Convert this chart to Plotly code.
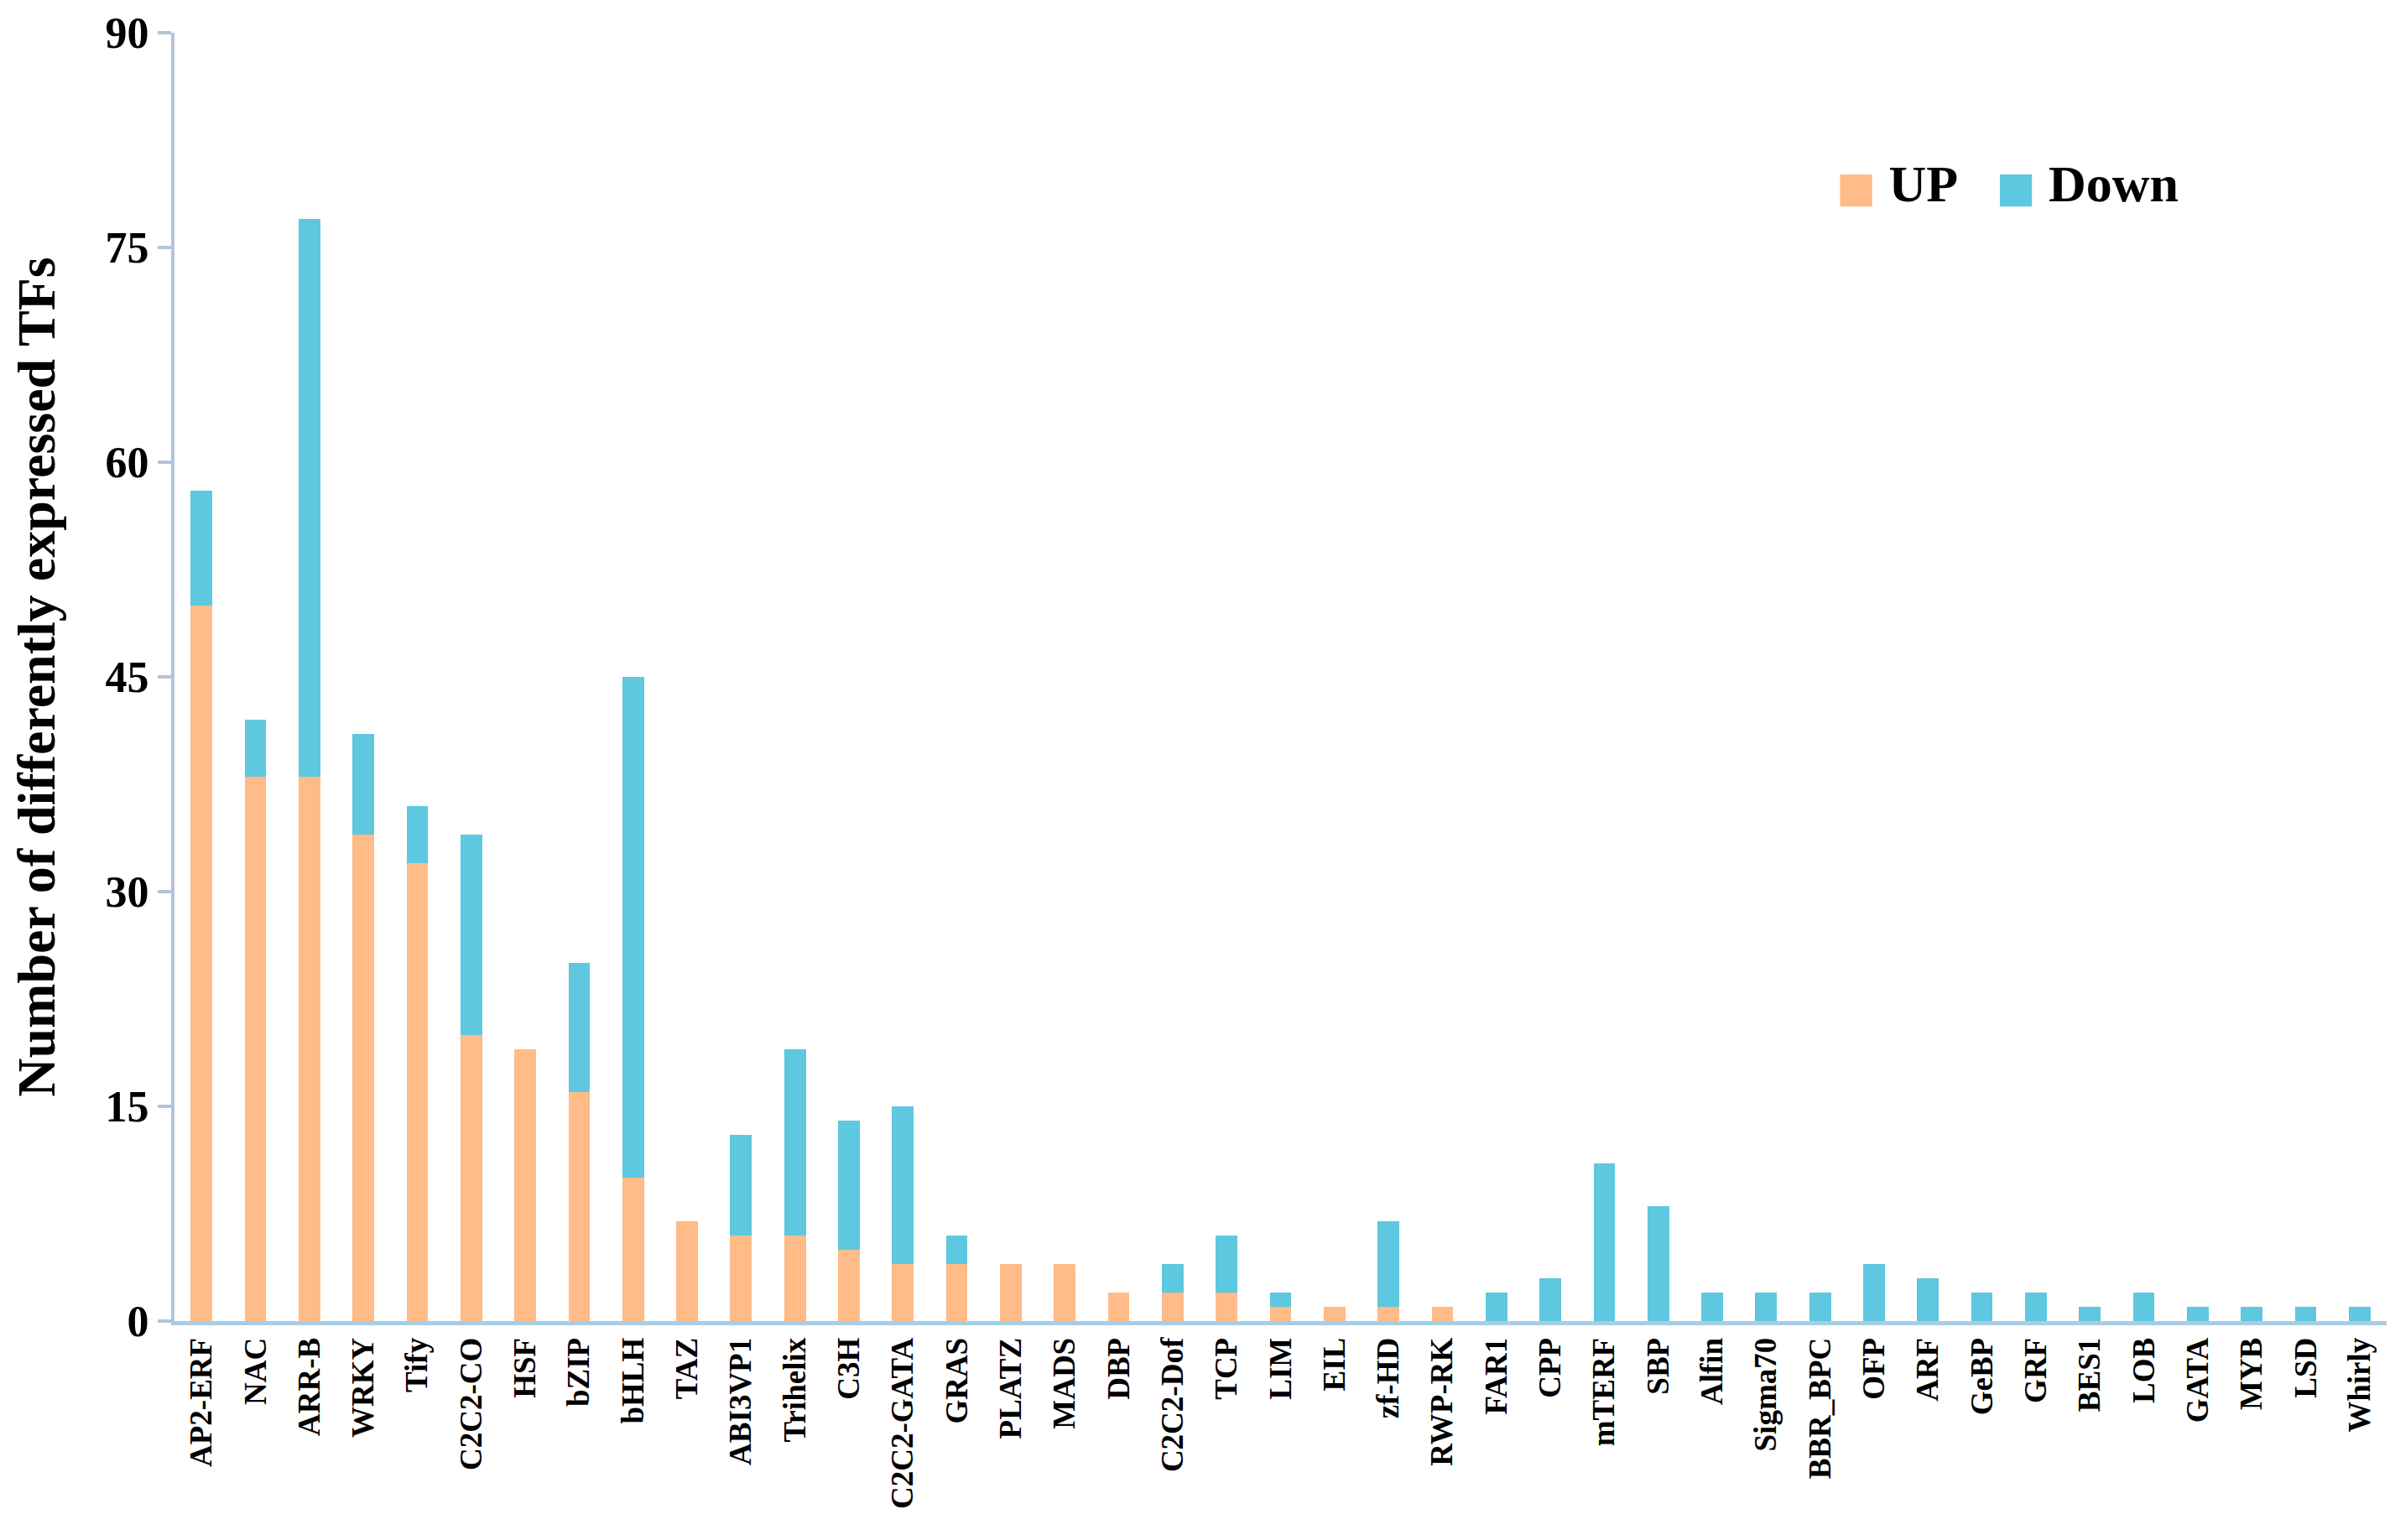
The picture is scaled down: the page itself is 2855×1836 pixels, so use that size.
import plotly.graph_objects as go

categories = ["AP2-ERF", "NAC", "ARR-B", "WRKY", "Tify", "C2C2-CO", "HSF", "bZIP", "bHLH", "TAZ",
              "ABI3VP1", "Trihelix", "C3H", "C2C2-GATA", "GRAS", "PLATZ", "MADS", "DBP", "C2C2-Dof", "TCP",
              "LIM", "EIL", "zf-HD", "RWP-RK", "FAR1", "CPP", "mTERF", "SBP", "Alfin", "Sigma70",
              "BBR_BPC", "OFP", "ARF", "GeBP", "GRF", "BES1", "LOB", "GATA", "MYB", "LSD", "Whirly"]
up_values = [50, 38, 38, 34, 32, 20, 19, 16, 10, 7,
             6, 6, 5, 4, 4, 4, 4, 2, 2, 2,
             1, 1, 1, 1, 0, 0, 0, 0, 0, 0,
             0, 0, 0, 0, 0, 0, 0, 0, 0, 0, 0]
down_values = [8, 4, 39, 7, 4, 14, 0, 9, 35, 0,
               7, 13, 9, 11, 2, 0, 0, 0, 2, 4,
               1, 0, 6, 0, 2, 3, 11, 8, 2, 2,
               2, 4, 3, 2, 2, 1, 2, 1, 1, 1, 1]
y_ticks = [0, 15, 30, 45, 60, 75, 90]
series_names = ["UP", "Down"]

FONT = "Times New Roman, Liberation Serif, serif"
UP_COLOR = "#FFBB88"
DOWN_COLOR = "#5DC8DF"
colors = [UP_COLOR, DOWN_COLOR]

fig = go.Figure()
for name, vals, col in zip(series_names, [up_values, down_values], colors):
    fig.add_trace(go.Bar(x=categories, y=vals, name=name, showlegend=False,
                         marker=dict(color=col, line=dict(width=0))))

# legend entries with large square swatches (plotly's own bar swatch is fixed at 12px)
for name, col in zip(series_names, colors):
    fig.add_trace(go.Scatter(
        x=[categories[0]], y=[None], mode="markers",
        marker=dict(color="rgba(0,0,0,0)", size=1),
        name=f'<span style="color:{col};font-family:DejaVu Sans;font-size:50px">■</span> {name}',
        hoverinfo="skip", showlegend=True,
    ))

fig.update_layout(
    barmode="stack",
    bargap=0.6,
    width=2855, height=1836,
    paper_bgcolor="white", plot_bgcolor="white",
    margin=dict(l=200, r=18, t=31, b=269, autoexpand=False),
    font=dict(family=FONT, color="black"),
    legend=dict(orientation="h", x=0.736, y=0.885, xanchor="left", yanchor="middle",
                font=dict(family=FONT, size=62, color="black", weight="bold"),
                itemwidth=30,
                bgcolor="rgba(0,0,0,0)", traceorder="normal"),
    showlegend=True,
)
fig.update_xaxes(
    type="category",
    range=[-0.5, len(categories) - 0.5],
    showline=True, linecolor="#A8CDE6", linewidth=5,
    ticks="", tickangle=-90,
    tickfont=dict(family=FONT, size=37, color="black", weight="bold"),
    showgrid=False, zeroline=False,
)
fig.update_yaxes(
    range=[0, 90], tickvals=y_ticks,
    showline=True, linecolor="#B4C4D8", linewidth=4,
    ticks="outside", ticklen=16, tickcolor="#B4C4D8", tickwidth=4,
    ticklabeloverflow="allow",
    tickfont=dict(family=FONT, size=52, color="black", weight="bold"),
    showgrid=False, zeroline=False,
    title=dict(text="Number of differently expressed TFs",
               font=dict(family=FONT, size=64, color="black", weight="bold"),
               standoff=48),
)

fig.write_html("out.html")
